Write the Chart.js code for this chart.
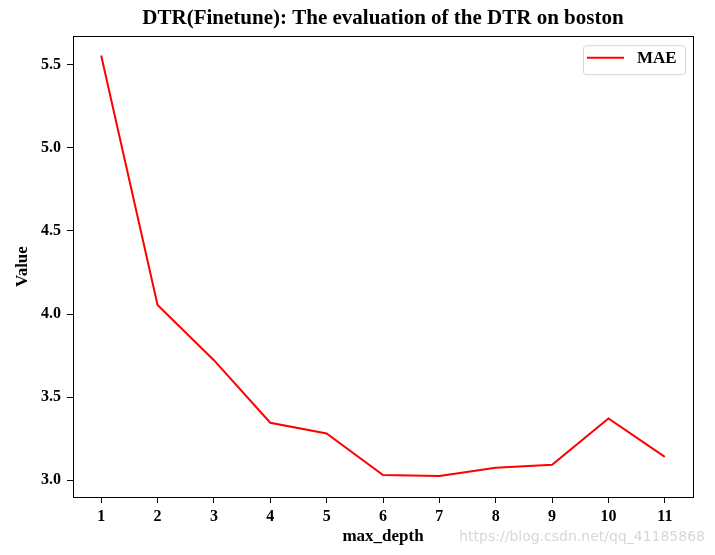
<!DOCTYPE html>
<html>
<head>
<meta charset="utf-8">
<script src="https://cdn.jsdelivr.net/npm/chart.js@4/dist/chart.umd.min.js"></script>
<style>
html,body{margin:0;padding:0;background:#fff;}
#wrap{width:715px;height:555px;position:relative;}
</style>
</head>
<body>
<div id="wrap"><canvas id="c" width="715" height="555"></canvas></div>
<script>
const categories = ['1','2','3','4','5','6','7','8','9','10','11'];
const maeValues = [5.557, 4.055, 3.722, 3.345, 3.281, 3.030, 3.024, 3.074, 3.092, 3.371, 3.140];
const yTickValues = [3.0, 3.5, 4.0, 4.5, 5.0, 5.5];
const seriesLabel = 'MAE';
const chartTitle = 'DTR(Finetune): The evaluation of the DTR on boston';
const xTitle = 'max_depth';
const yTitle = 'Value';
const watermark = 'https://blog.csdn.net/qq_41185868';

const SERIF = '"Liberation Serif", "Times New Roman", serif';

const framePlugin = {
  id: 'frame',
  afterLayout(chart) {
    const t = chart.titleBlock;
    if (t) { t.left = chart.chartArea.left; t.right = chart.chartArea.right; }
  },
  afterDatasetsDraw(chart) {
    const {ctx, chartArea: a} = chart;
    ctx.save();
    ctx.strokeStyle = '#000';
    ctx.lineWidth = 1;
    ctx.strokeRect(Math.round(a.left) + 0.5, Math.round(a.top) + 0.5,
      Math.round(a.right - a.left), Math.round(a.bottom - a.top));
    ctx.restore();
  },
  afterDraw(chart) {
    const {ctx, chartArea: a} = chart;
    const ds = chart.data.datasets[0];
    ctx.save();
    // legend box
    const w = 102, h = 29;
    const x = a.right - 8 - w, y = a.top + 9;
    ctx.beginPath();
    ctx.roundRect(x + 0.5, y + 0.5, w, h, 3);
    ctx.fillStyle = 'rgba(255,255,255,0.8)';
    ctx.fill();
    ctx.strokeStyle = '#d6d6d6';
    ctx.lineWidth = 1;
    ctx.stroke();
    ctx.beginPath();
    ctx.moveTo(x + 4, y + 12.5);
    ctx.lineTo(x + 41, y + 12.5);
    ctx.strokeStyle = ds.borderColor;
    ctx.lineWidth = 2;
    ctx.stroke();
    ctx.fillStyle = '#000';
    ctx.font = 'bold 17px ' + SERIF;
    ctx.textBaseline = 'middle';
    ctx.textAlign = 'left';
    ctx.fillText(ds.label, x + 54, y + 13);
    // watermark
    ctx.fillStyle = 'rgba(205,205,205,0.8)';
    ctx.font = '14px "DejaVu Sans", sans-serif';
    ctx.textAlign = 'right';
    ctx.fillText(watermark, 705, 537);
    ctx.restore();
  }
};

new Chart(document.getElementById('c'), {
  type: 'line',
  data: {
    labels: categories,
    datasets: [{
      label: seriesLabel,
      data: maeValues,
      borderColor: '#ff0000',
      backgroundColor: '#ff0000',
      borderWidth: 2,
      pointRadius: 0,
      tension: 0,
      fill: false
    }]
  },
  options: {
    responsive: false,
    animation: false,
    layout: {padding: {left: 0, right: 22, top: 0, bottom: 0}},
    plugins: {
      legend: {display: false},
      tooltip: {enabled: false},
      title: {
        display: true,
        text: chartTitle,
        color: '#000',
        font: {family: SERIF, size: 21, weight: 'bold', lineHeight: 1.2},
        padding: {top: 6, bottom: 5}
      }
    },
    scales: {
      x: {
        type: 'category',
        offset: true,
        afterFit(s) { s.height = 58; },
        grid: {display: true, drawOnChartArea: false, drawTicks: true, tickLength: 6, color: '#000', offset: false},
        border: {display: true, color: '#000', width: 1},
        ticks: {color: '#000', font: {family: SERIF, size: 16, weight: 'bold'}, padding: 4, maxRotation: 0},
        title: {display: true, text: xTitle, color: '#000', font: {family: SERIF, size: 17, weight: 'bold', lineHeight: 1.2}, padding: {top: 0, bottom: 8}}
      },
      y: {
        type: 'linear',
        min: 2.898,
        max: 5.673,
        afterFit(s) { s.width = 73; },
        afterBuildTicks(s) { s.ticks = yTickValues.map(v => ({value: v})); },
        grid: {display: true, drawOnChartArea: false, drawTicks: true, tickLength: 6, color: '#000'},
        border: {display: true, color: '#000', width: 1},
        ticks: {color: '#000', font: {family: SERIF, size: 16, weight: 'bold'}, padding: 6,
          callback: v => Number(v).toFixed(1)},
        title: {display: true, text: yTitle, color: '#000', font: {family: SERIF, size: 17, weight: 'bold', lineHeight: 1.2}, padding: {top: 12, bottom: 0}}
      }
    }
  },
  plugins: [framePlugin]
});
</script>
</body>
</html>
